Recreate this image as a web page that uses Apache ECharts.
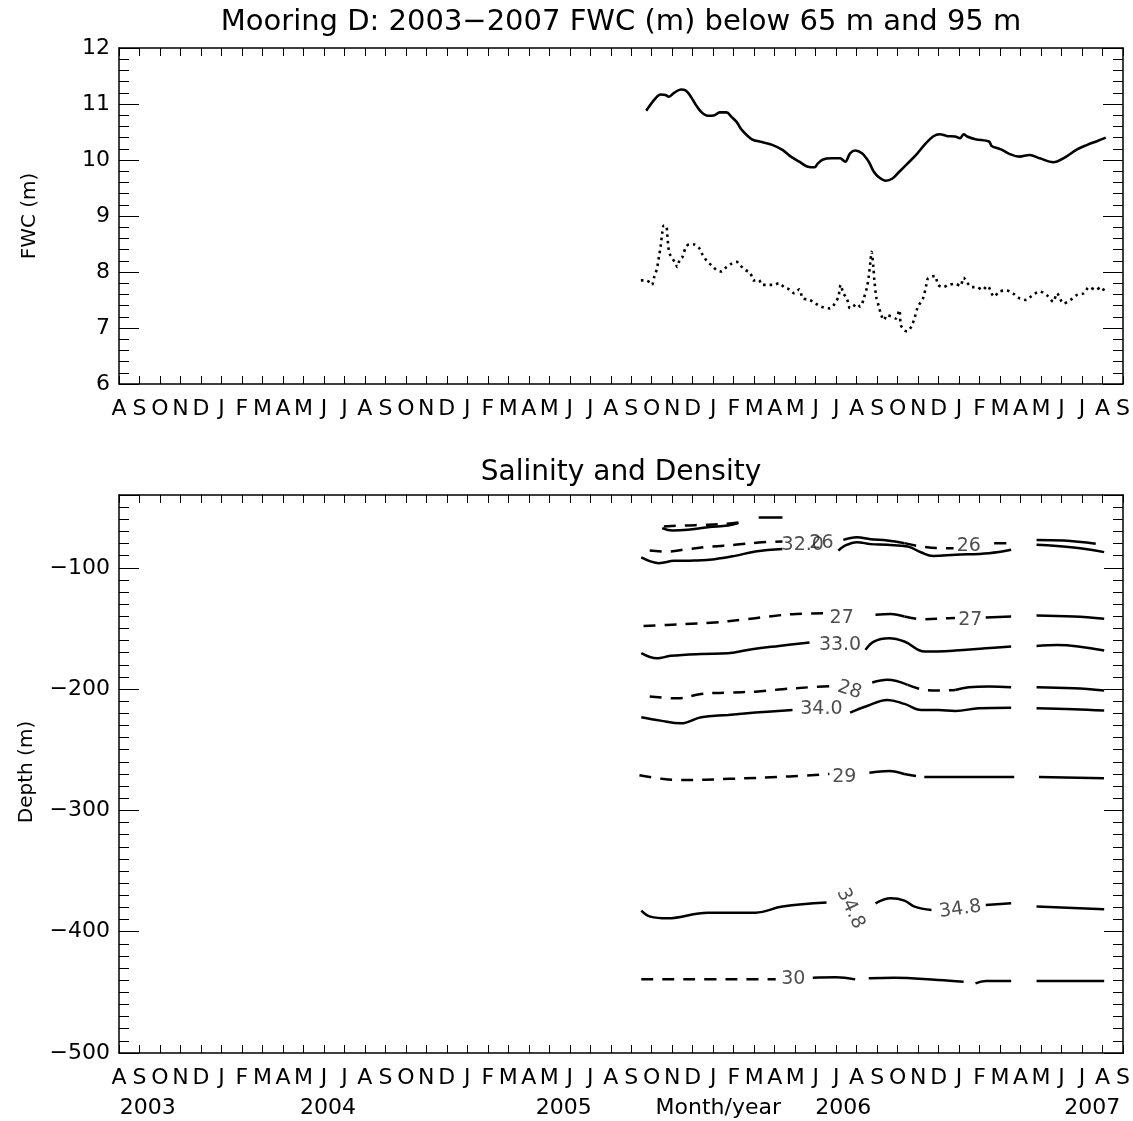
<!DOCTYPE html>
<html><head><meta charset="utf-8">
<script src="https://cdn.jsdelivr.net/npm/echarts@6/dist/echarts.min.js"></script>
<style>html,body{margin:0;padding:0;background:#fff}#c{width:1133px;height:1121px}</style>
</head><body><div id="c"></div><script>
// ---------- tick labels ----------
const monthLabels = ['A','S','O','N','D','J','F','M','A','M','J','J','A','S','O','N','D','J','F','M','A','M','J','J','A','S','O','N','D','J','F','M','A','M','J','J','A','S','O','N','D','J','F','M','A','M','J','J','A','S'];
const yearLabels = ['2003','2004','2005','Month/year','2006','2007'];
const yearLabelMonth = [1.40, 10.20, 21.70, 29.25, 35.35, 47.50];

// ---------- top panel: FWC (m), x = months since 1 Aug 2003 ----------
const fwc65Month = [25.73,26.18,26.43,26.67,26.84,27.09,27.42,27.66,27.91,28.16,28.41,28.74,29.07,29.32,29.65,29.89,30.14,30.39,30.89,31.38,31.88,32.38,32.79,33.20,33.62,33.95,34.11,34.36,34.77,35.19,35.44,35.68,35.93,36.26,36.59,36.84,37.09,37.42,37.75,38.08,38.49,38.90,39.31,39.73,40.06,40.39,40.80,41.05,41.22,41.39,41.80,42.46,42.59,43.04,43.45,43.94,44.44,44.94,45.60,46.09,46.76,47.25,47.75,48.16];
const fwc65Value = [10.88,11.10,11.17,11.16,11.13,11.20,11.26,11.24,11.13,10.98,10.86,10.79,10.80,10.85,10.85,10.77,10.68,10.54,10.37,10.32,10.27,10.18,10.06,9.97,9.88,9.87,9.94,10.01,10.03,10.03,9.97,10.12,10.17,10.12,9.97,9.79,9.69,9.63,9.67,9.79,9.94,10.09,10.27,10.42,10.46,10.43,10.42,10.39,10.46,10.42,10.37,10.33,10.25,10.19,10.11,10.06,10.09,10.03,9.96,10.03,10.19,10.27,10.34,10.40];
const fwc95Month = [25.47,25.68,25.93,26.01,26.13,26.26,26.35,26.43,26.51,26.59,26.71,26.76,26.81,26.87,27.01,27.12,27.25,27.37,27.50,27.67,27.83,28.08,28.33,28.49,28.66,28.91,29.15,29.40,29.65,29.90,30.15,30.31,30.56,30.81,30.97,31.22,31.39,31.72,31.96,32.21,32.46,32.71,32.96,33.20,33.37,33.62,33.87,34.11,34.36,34.69,34.94,35.11,35.22,35.35,35.52,35.68,35.85,36.01,36.18,36.35,36.51,36.59,36.68,36.73,36.81,36.87,36.97,37.09,37.20,37.34,37.47,37.67,37.92,38.08,38.16,38.33,38.46,38.66,38.82,38.99,39.24,39.40,39.49,39.82,39.98,40.23,40.48,40.81,41.06,41.22,41.39,41.63,41.88,42.13,42.38,42.71,42.96,43.29,43.62,43.95,44.28,44.53,44.94,45.27,45.60,45.77,46.10,46.43,46.76,47.09,47.34,47.67,47.92,48.11];
const fwc95Value = [7.85,7.85,7.81,7.77,7.92,8.07,8.27,8.45,8.69,8.83,8.82,8.66,8.45,8.33,8.24,8.18,8.09,8.23,8.27,8.45,8.49,8.49,8.42,8.30,8.21,8.12,8.04,8.01,8.09,8.15,8.18,8.12,8.04,7.98,7.85,7.86,7.77,7.77,7.77,7.80,7.73,7.69,7.62,7.69,7.53,7.51,7.47,7.41,7.37,7.35,7.44,7.56,7.77,7.62,7.53,7.35,7.39,7.43,7.38,7.53,7.74,7.92,8.21,8.36,8.12,7.83,7.53,7.38,7.23,7.14,7.23,7.21,7.17,7.32,7.05,6.96,6.94,7.02,7.17,7.38,7.53,7.77,7.89,7.93,7.77,7.73,7.77,7.79,7.75,7.90,7.81,7.73,7.73,7.68,7.75,7.56,7.65,7.67,7.62,7.53,7.50,7.57,7.65,7.59,7.47,7.62,7.44,7.50,7.59,7.62,7.73,7.68,7.73,7.65];

// ---------- bottom panel: contours [month, depth] ----------
const den255 = [
  [[26.59,-66.0],[27.59,-65.1],[28.58,-64.6],[29.57,-63.8],[30.23,-62.7]],
  [[31.22,-58.5],[32.38,-58.5]]
];
const den255Dashed = [true, false];
const sal31 = [
  [[26.51,-67.3],[27.01,-69.3],[27.75,-68.7],[28.74,-66.5],[29.73,-65.1],[30.23,-63.2]]
];
const den26 = [
  [[25.90,-85.8],[26.76,-86.6],[27.75,-84.6],[28.91,-82.5],[30.06,-81.1],[31.22,-79.2],[32.38,-78.3]],
  [[35.35,-77.0],[36.01,-74.8],[36.68,-76.4],[37.50,-77.5],[38.33,-79.7]],
  [[38.33,-79.7],[39.16,-82.5],[39.98,-83.8],[40.73,-83.8]],
  [[42.71,-79.7],[43.54,-79.7]],
  [[44.78,-77.0],[46.10,-77.5],[47.67,-80.2]]
];
const den26Dashed = [true, false, true, true, false];
const sal32 = [
  [[25.49,-91.5],[25.90,-94.5],[26.35,-96.2],[27.09,-94.3],[28.08,-94.0],[29.07,-92.9],[30.06,-90.2],[31.06,-86.6],[32.38,-84.6]],
  [[35.11,-85.8],[35.35,-82.5],[36.01,-78.9],[36.68,-80.5],[37.50,-81.1],[38.49,-82.5],[39.16,-87.4],[39.73,-90.2],[40.81,-89.3],[42.46,-88.0],[43.54,-85.2]],
  [[44.78,-81.1],[46.59,-83.3],[48.08,-87.1]]
];
const den27 = [
  [[25.60,-147.9],[26.76,-147.1],[27.92,-146.2],[29.07,-145.1],[30.39,-142.9],[31.72,-140.2],[33.04,-138.0],[34.50,-137.5]],
  [[36.92,-138.8],[37.67,-138.0],[38.33,-140.2]],
  [[38.33,-140.2],[39.16,-142.4],[40.48,-141.6],[40.80,-141.5]],
  [[42.30,-140.9],[43.54,-140.2]],
  [[44.78,-139.4],[46.59,-140.2],[48.08,-142.1]]
];
const den27Dashed = [true, false, true, false, false];
const sal33 = [
  [[25.49,-170.4],[26.26,-174.6],[26.92,-172.6],[28.41,-171.0],[29.73,-170.4],[30.89,-167.1],[32.21,-164.4],[33.70,-161.6]],
  [[36.43,-167.7],[36.84,-160.8],[37.58,-158.1],[38.33,-160.8],[39.32,-169.1],[40.81,-168.2],[42.30,-166.3],[43.54,-164.9]],
  [[44.78,-164.4],[45.77,-163.6],[48.08,-168.2]]
];
const den28 = [
  [[25.90,-206.2],[27.25,-207.6],[28.41,-204.0],[29.73,-202.9],[31.06,-202.1],[32.38,-200.1],[33.70,-198.5],[34.86,-197.5]],
  [[36.76,-194.6],[37.50,-192.4],[38.49,-196.6]],
  [[38.49,-196.6],[39.16,-200.1],[39.98,-201.2],[40.81,-200.7]],
  [[40.81,-200.7],[41.47,-198.5],[42.46,-197.9],[43.54,-198.5]],
  [[44.78,-198.5],[46.59,-199.3],[48.08,-201.2]]
];
const den28Dashed = [true, false, true, false, false];
const sal34 = [
  [[25.49,-223.2],[26.43,-226.0],[27.42,-228.2],[28.41,-223.2],[29.73,-221.3],[31.06,-219.4],[32.87,-217.2]],
  [[35.68,-219.4],[36.51,-213.9],[37.50,-208.9],[38.33,-212.2],[39.16,-217.2],[39.98,-217.2],[40.81,-218.0],[41.96,-215.8],[43.54,-215.3]],
  [[44.78,-215.8],[46.59,-216.6],[48.08,-217.7]]
];
const den29 = [
  [[25.40,-271.0],[26.50,-274.0],[27.35,-275.0],[29.79,-274.0],[32.72,-272.0],[34.67,-270.0]],
  [[36.62,-269.0],[37.59,-267.5],[38.32,-270.0]],
  [[38.32,-270.0],[39.00,-272.0]],
  [[39.30,-272.5],[41.49,-272.5],[43.69,-272.5]],
  [[44.90,-272.5],[48.07,-273.5]]
];
const den29Dashed = [true, false, true, false, false];
const sal348 = [
  [[25.49,-382.6],[25.93,-387.6],[26.76,-389.0],[28.74,-384.3],[31.06,-384.3],[32.38,-379.3],[34.53,-376.0]],
  [[36.92,-376.6],[37.67,-372.5],[38.33,-374.4],[38.82,-379.3],[39.65,-382.1]],
  [[42.30,-378.0],[43.54,-376.6]],
  [[44.78,-379.3],[48.08,-381.5]]
];
const den30 = [
  [[25.49,-439.3],[32.05,-439.3]],
  [[33.86,-437.9],[35.00,-437.5],[35.93,-439.3]],
  [[36.59,-438.4],[37.83,-437.9],[39.98,-439.8],[41.22,-441.2]],
  [[41.80,-442.6],[42.30,-440.6],[43.54,-440.6]],
  [[44.78,-440.6],[48.08,-440.6]]
];
const den30Dashed = [true, false, false, false, false];

// contour labels
const contourLabelText  = ['32.0','26','26','27','27','33.0','28','34.0','29','34.8','34.8','30'];
const contourLabelMonth = [33.37,34.28,41.47,35.27,41.55,35.19,35.65,34.28,35.40,35.70,41.06,32.91];
const contourLabelDepth = [-81.1,-79.7,-82.5,-141.6,-143.0,-163.6,-200.7,-216.6,-272.4,-381.0,-381.5,-439.3];
const contourLabelRotate = [0,0,0,0,0,0,-18,0,0,-65,8,0];

// ---------- chart ----------
const FONT = "'DejaVu Sans', 'Liberation Sans', sans-serif";
const BLACK = '#000';
const chart = echarts.init(document.getElementById('c'), null, {renderer: 'canvas'});

const gridTop = {left: 119, top: 48, width: 1005, height: 336};
const gridBot = {left: 119, top: 495, width: 1005, height: 558};

function xAxes(gridIndex, showLine) {
  const line = {show: showLine, onZero: false, lineStyle: {color: BLACK, width: 1.5}};
  return [
    {gridIndex, type: 'value', position: 'bottom', min: 0, max: 49, interval: 1,
     axisLine: line,
     axisTick: {show: showLine, inside: true, length: 8, lineStyle: {color: BLACK, width: 1}},
     axisLabel: {show: showLine, margin: 14, fontSize: 22, color: BLACK, fontFamily: FONT,
                 showMinLabel: true, showMaxLabel: true,
                 formatter: v => monthLabels[Math.round(v)] || ''},
     splitLine: {show: false}},
    {gridIndex, type: 'value', position: 'top', min: 0, max: 49, interval: 1,
     axisLine: line,
     axisTick: {show: showLine, inside: true, length: 8, lineStyle: {color: BLACK, width: 1}},
     axisLabel: {show: false}, splitLine: {show: false}}
  ];
}

const xAxis = [].concat(xAxes(0, true), xAxes(1, true), [
  {gridIndex: 2, type: 'value', min: 0, max: 49, show: false}
]);

const tickStyle = {color: BLACK, width: 1};
const yAxis = [
  // top panel
  {gridIndex: 0, type: 'value', position: 'left', min: 6, max: 12, interval: 1,
   axisLine: {show: true, onZero: false, lineStyle: {color: BLACK, width: 1.5}},
   axisTick: {show: true, inside: true, length: 20, lineStyle: tickStyle},
   minorTick: {show: true, splitNumber: 5, length: 10, lineStyle: tickStyle},
   axisLabel: {show: true, margin: 9, fontSize: 22, color: BLACK, fontFamily: FONT},
   splitLine: {show: false}},
  {gridIndex: 0, type: 'value', position: 'right', min: 6, max: 12, interval: 1,
   axisLine: {show: true, onZero: false, lineStyle: {color: BLACK, width: 1.5}},
   axisTick: {show: true, inside: true, length: 20, lineStyle: tickStyle},
   minorTick: {show: true, splitNumber: 5, length: 10, lineStyle: tickStyle},
   axisLabel: {show: false}, splitLine: {show: false}},
  // bottom panel: 10 m ticks + labels
  {gridIndex: 1, type: 'value', position: 'left', min: -500, max: -40, interval: 10,
   axisLine: {show: true, onZero: false, lineStyle: {color: BLACK, width: 1.5}},
   axisTick: {show: true, inside: true, length: 10, lineStyle: tickStyle},
   axisLabel: {show: true, margin: 9, fontSize: 22, color: BLACK, fontFamily: FONT,
               showMinLabel: true, showMaxLabel: false,
               formatter: v => (v % 100 === 0 && v <= -100) ? '\u2212' + Math.abs(v) : ''},
   splitLine: {show: false}},
  {gridIndex: 1, type: 'value', position: 'right', min: -500, max: -40, interval: 10,
   axisLine: {show: true, onZero: false, lineStyle: {color: BLACK, width: 1.5}},
   axisTick: {show: true, inside: true, length: 10, lineStyle: tickStyle},
   axisLabel: {show: false}, splitLine: {show: false}},
  // bottom panel overlay: 100 m major ticks
  {gridIndex: 2, type: 'value', position: 'left', min: -500, max: -40, interval: 100,
   axisLine: {show: false},
   axisTick: {show: true, inside: true, length: 20, lineStyle: tickStyle},
   axisLabel: {show: false}, splitLine: {show: false}},
  {gridIndex: 2, type: 'value', position: 'right', min: -500, max: -40, interval: 100,
   axisLine: {show: false},
   axisTick: {show: true, inside: true, length: 20, lineStyle: tickStyle},
   axisLabel: {show: false}, splitLine: {show: false}}
];

const series = [];
series.push({
  type: 'line', xAxisIndex: 0, yAxisIndex: 0, showSymbol: false, smooth: 0.35, silent: true,
  data: fwc65Month.map((m, i) => [m, fwc65Value[i]]),
  lineStyle: {color: BLACK, width: 2.6}
});
series.push({
  type: 'line', xAxisIndex: 0, yAxisIndex: 0, showSymbol: false, smooth: 0.3, silent: true,
  data: fwc95Month.map((m, i) => [m, fwc95Value[i]]),
  lineStyle: {color: BLACK, width: 2.6, type: [2.5, 4], cap: 'butt'}
});

function addContour(segments, dashedFlags) {
  segments.forEach((seg, i) => {
    const dashed = dashedFlags ? dashedFlags[i] : false;
    series.push({
      type: 'line', xAxisIndex: 2, yAxisIndex: 2, showSymbol: false, smooth: 0.4, silent: true,
      data: seg,
      lineStyle: {color: BLACK, width: 2.5, type: dashed ? [12, 9] : 'solid'}
    });
  });
}
addContour(den255, den255Dashed);
addContour(sal31, null);
addContour(den26, den26Dashed);
addContour(sal32, null);
addContour(den27, den27Dashed);
addContour(sal33, null);
addContour(den28, den28Dashed);
addContour(sal34, null);
addContour(den29, den29Dashed);
addContour(sal348, null);
addContour(den30, den30Dashed);

series.push({
  type: 'scatter', xAxisIndex: 2, yAxisIndex: 2, symbolSize: 0, silent: true,
  data: contourLabelText.map((t, i) => ({
    value: [contourLabelMonth[i], contourLabelDepth[i]],
    label: {show: true, position: 'inside', formatter: t, rotate: contourLabelRotate[i],
            fontSize: 19, color: '#222', fontFamily: FONT}
  }))
});

chart.setOption({
  animation: false,
  backgroundColor: '#fff',
  grid: [gridTop, gridBot, gridBot],
  xAxis, yAxis, series
});

// titles, axis names, year row
const graphics = [
  {type: 'text', x: 621, y: 22, style: {text: 'Mooring D: 2003\u22122007 FWC (m) below 65 m and 95 m',
    font: "29px " + FONT, fill: BLACK, align: 'center', verticalAlign: 'middle'}},
  {type: 'text', x: 621, y: 473, style: {text: 'Salinity and Density',
    font: "28px " + FONT, fill: BLACK, align: 'center', verticalAlign: 'middle'}},
  {type: 'text', x: 30, y: 216, rotation: Math.PI / 2, style: {text: 'FWC (m)',
    font: "20px " + FONT, fill: BLACK, align: 'center', verticalAlign: 'middle'}},
  {type: 'text', x: 27, y: 772, rotation: Math.PI / 2, style: {text: 'Depth (m)',
    font: "20px " + FONT, fill: BLACK, align: 'center', verticalAlign: 'middle'}}
];
yearLabels.forEach((t, i) => {
  const px = chart.convertToPixel({xAxisIndex: 2}, yearLabelMonth[i]);
  graphics.push({type: 'text', x: px, y: 1108, style: {text: t,
    font: "22px " + FONT, fill: BLACK, align: 'center', verticalAlign: 'middle'}});
});
chart.setOption({graphic: graphics});
</script></body></html>
